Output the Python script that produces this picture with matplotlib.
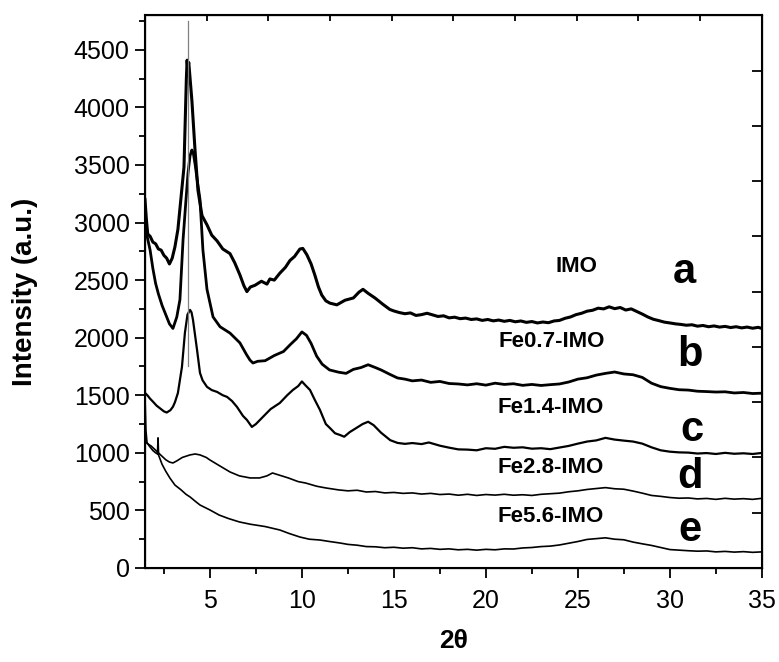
import matplotlib
matplotlib.use("Agg")
import matplotlib.pyplot as plt

plt.rcParams['font.family'] = ['Liberation Sans', 'DejaVu Sans']

# XRD patterns (2theta, intensity in a.u.)
x_imo = [1.47, 1.55, 1.62, 1.75, 1.9, 2.05, 2.2, 2.35, 2.5, 2.65, 2.8, 2.95, 3.1, 3.26,
         3.42, 3.59, 3.66, 3.72, 3.76, 3.8, 3.85, 3.92, 4.02, 4.19, 4.35, 4.57, 4.84,
         5.1, 5.39, 5.7, 6.09, 6.35, 6.63, 6.85, 7.01, 7.2, 7.45, 7.8, 8.1, 8.26, 8.5,
         8.8, 9.1, 9.35, 9.6, 9.89, 10.05, 10.27, 10.5, 10.7, 10.9, 11.08, 11.3, 11.52,
         11.9, 12.34, 12.8, 13.1, 13.32, 13.6, 13.97, 14.4, 14.78,
         15.0, 15.3, 15.6, 15.9, 16.2, 16.5, 16.8, 17.1, 17.4, 17.7, 18.0, 18.3, 18.6,
         18.9, 19.2, 19.5, 19.8, 20.1, 20.4, 20.7, 21.0, 21.3, 21.6, 21.9, 22.2, 22.5,
         22.8, 23.1, 23.4, 23.7, 24.0, 24.3, 24.6, 24.9, 25.2, 25.5, 25.8, 26.1, 26.4,
         26.7, 27.0, 27.3, 27.6, 27.9, 28.2, 28.5, 28.8, 29.1, 29.4, 29.7, 30.0, 30.3,
         30.6, 30.9, 31.2, 31.5, 31.8, 32.1, 32.4, 32.7, 33.0, 33.3, 33.6, 33.9, 34.2,
         34.5, 34.8, 35.0]
y_imo = [3200, 3020, 2900, 2880, 2830, 2815, 2770, 2760, 2715, 2690, 2640, 2690, 2790, 2940,
         3200, 3480, 3890, 4250, 4410, 4330, 4390, 4250, 4060, 3630, 3280, 3060, 2980,
         2890, 2840, 2770, 2730, 2650, 2545, 2450, 2400, 2440, 2455, 2490, 2465, 2510, 2500,
         2560, 2610, 2670, 2705, 2770, 2775, 2720, 2640, 2545, 2440, 2370, 2320, 2300,
         2285, 2325, 2345, 2395, 2420, 2385, 2345, 2290, 2245,
         2232, 2218, 2208, 2215, 2193, 2200, 2212, 2198, 2184, 2190, 2172, 2178, 2165,
         2170, 2158, 2163, 2150, 2158, 2146, 2153, 2142, 2150, 2138, 2145, 2133, 2140,
         2128, 2136, 2130, 2145, 2150, 2168, 2180, 2200, 2212, 2230, 2238, 2256, 2250,
         2268, 2252, 2262, 2240, 2250, 2228, 2205, 2180, 2160, 2148, 2135, 2128, 2120,
         2115, 2108, 2112, 2100, 2106, 2095, 2102, 2092, 2098, 2088, 2095, 2085, 2092,
         2082, 2090, 2080]

x_fe07 = [1.47, 1.6, 1.75, 1.9, 2.05, 2.2, 2.4, 2.6, 2.8, 2.99, 3.2, 3.37, 3.54, 3.7,
          3.81, 3.92, 4.02, 4.1, 4.2, 4.3, 4.46, 4.62, 4.84, 5.17, 5.55, 6.09, 6.63, 7.0,
          7.18, 7.34, 7.6, 8.0, 8.5, 9.0, 9.4, 9.7, 10.0, 10.25, 10.5, 10.8, 11.1, 11.5,
          12.0, 12.4, 12.8, 13.2, 13.6, 14.0, 14.3, 14.8,
          15.2, 15.6, 16.0, 16.5, 17.0, 17.5, 18.0, 18.5, 19.0, 19.5, 20.0, 20.5, 21.0,
          21.5, 22.0, 22.5, 23.0, 23.5, 24.0, 24.5, 25.0, 25.5, 26.0, 26.5, 27.0, 27.5,
          28.0, 28.5, 29.0, 29.5, 30.0, 30.5, 31.0, 31.5, 32.0, 32.5, 33.0, 33.5, 34.0,
          34.5, 35.0]
y_fe07 = [2980, 2870, 2760, 2600, 2470, 2380, 2280, 2200, 2120, 2080, 2180, 2330, 2850, 3200,
          3430, 3580, 3630, 3600, 3500, 3380, 3200, 2760, 2420, 2180, 2095, 2040, 1955, 1850,
          1805, 1780, 1795, 1800, 1845, 1880, 1945, 1990, 2050, 2020, 1950, 1840, 1770, 1720,
          1700, 1690, 1725, 1740, 1765, 1740, 1720, 1680,
          1650, 1640, 1625, 1632, 1612, 1620, 1602, 1598, 1590, 1600, 1588, 1605, 1594,
          1600, 1586, 1594, 1585, 1592, 1598, 1615, 1640, 1652, 1675, 1690, 1702, 1685,
          1678, 1655, 1605, 1575, 1560, 1548, 1545, 1535, 1532, 1528, 1530, 1520, 1524,
          1515, 1518]

x_fe14 = [1.47, 1.6, 1.75, 1.9, 2.1, 2.3, 2.5, 2.65, 2.85, 2.99, 3.1, 3.26, 3.48, 3.64,
          3.78, 3.92, 4.0, 4.08, 4.3, 4.46, 4.6, 4.84, 5.1, 5.39, 5.7, 5.93, 6.2, 6.47, 6.8,
          7.01, 7.28, 7.5, 7.88, 8.3, 8.8, 9.2, 9.51, 9.8, 10.0, 10.2, 10.44, 10.7, 10.98,
          11.3, 11.52, 11.8, 12.07, 12.3, 12.6, 13.0, 13.3, 13.6, 13.9, 14.3, 14.8,
          15.2, 15.6, 16.0, 16.5, 16.9, 17.5, 18.0, 18.5, 19.0, 19.5, 20.0, 20.5, 21.0,
          21.5, 22.0, 22.5, 23.0, 23.5, 24.0, 24.5, 25.0, 25.5, 26.0, 26.5, 27.0, 27.5,
          28.0, 28.5, 29.0, 29.5, 30.0, 30.5, 31.0, 31.5, 32.0, 32.5, 33.0, 33.5, 34.0,
          34.5, 35.0]
y_fe14 = [1520, 1500, 1470, 1445, 1410, 1385, 1360, 1350, 1370, 1400, 1440, 1520, 1746, 2041,
          2200, 2241, 2220, 2155, 1894, 1694, 1630, 1573, 1545, 1529, 1500, 1486, 1450, 1399, 1320,
          1286, 1225, 1250, 1312, 1380, 1433, 1500, 1546, 1580, 1620, 1585, 1546, 1460, 1373,
          1250, 1216, 1170, 1155, 1140, 1180, 1220, 1250, 1270, 1240, 1175, 1110,
          1086, 1078, 1085, 1076, 1090, 1062, 1045, 1030, 1028, 1022, 1040, 1035, 1052,
          1044, 1048, 1036, 1040, 1032, 1046, 1060, 1080, 1098, 1108, 1130, 1115, 1106,
          1098, 1080, 1048, 1022, 1010, 1004, 1002, 994, 998, 990, 1000, 992, 996,
          990, 999]

# narrow spike on the Fe1.4-IMO pattern
x_spike = [3.81, 3.81]
y_spike = [1750, 4750]

x_fe28 = [1.47, 1.6, 1.8, 2.0, 2.2, 2.4, 2.6, 2.8, 2.99, 3.2, 3.5, 3.92, 4.2, 4.46, 4.8,
          5.0, 5.5, 6.09, 6.6, 7.18, 7.7, 8.1, 8.4, 8.7, 9.26, 9.8, 10.2, 10.8, 11.3,
          12.0, 12.5, 13.0, 13.5, 14.0, 14.5, 15.0, 15.5, 16.0, 16.5, 17.0, 17.5, 18.0,
          18.5, 19.0, 19.5, 20.0, 20.5, 21.0, 21.5, 22.0, 22.5, 23.0, 23.5, 24.0, 24.5,
          25.0, 25.5, 26.0, 26.5, 27.0, 27.5, 28.0, 28.5, 29.0, 29.5, 30.0, 30.5, 31.0,
          31.5, 32.0, 32.5, 33.0, 33.5, 34.0, 34.5, 35.0]
y_fe28 = [1100, 1080, 1060, 1030, 1000, 970, 940, 920, 912, 930, 960, 982, 990, 982, 960,
          938, 890, 834, 800, 782, 782, 800, 825, 810, 782, 750, 738, 710, 695,
          678, 670, 675, 660, 664, 652, 656, 648, 652, 642, 648, 638, 642,
          632, 640, 630, 638, 633, 640, 632, 636, 630, 640, 645, 650, 662,
          670, 682, 690, 698, 688, 684, 668, 650, 630, 622, 612, 606, 608,
          600, 604, 596, 605, 598, 602, 596, 605]

x_fe56 = [1.47, 1.52, 1.58, 1.7, 1.9, 2.05, 2.15, 2.18, 2.21, 2.4, 2.6, 2.83, 3.1, 3.42,
          3.7, 3.92, 4.2, 4.46, 5.0, 5.5, 6.0, 6.6, 7.2, 8.0, 8.8, 9.3, 9.89, 10.4, 10.98,
          11.5, 12.07, 12.5, 13.0, 13.5, 14.0, 14.5, 15.0, 15.5, 16.0, 16.5, 17.0, 17.5,
          18.0, 18.5, 19.0, 19.5, 20.0, 20.5, 21.0, 21.5, 22.0, 22.5, 23.0, 23.5, 24.0,
          24.5, 25.0, 25.5, 26.0, 26.5, 27.0, 27.5, 28.0, 28.5, 29.0, 29.5, 30.0, 30.5,
          31.0, 31.5, 32.0, 32.5, 33.0, 33.5, 34.0, 34.5, 35.0]
y_fe56 = [1500, 1200, 1090, 1060, 1020, 1000, 990, 1130, 980, 900, 840, 780, 720, 680,
          640, 617, 580, 547, 504, 460, 430, 400, 380, 360, 330, 300, 269, 250, 243,
          230, 217, 205, 198, 186, 184, 176, 180, 172, 176, 166, 170, 162,
          166, 158, 162, 155, 162, 158, 166, 165, 174, 178, 186, 190, 200,
          215, 230, 248, 255, 262, 250, 245, 225, 210, 196, 178, 160, 155,
          150, 146, 148, 140, 144, 138, 142, 136, 140]

sample_names = ['IMO', 'Fe0.7-IMO', 'Fe1.4-IMO', 'Fe2.8-IMO', 'Fe5.6-IMO']
letters = ['a', 'b', 'c', 'd', 'e']
name_pos = [(24.9, 2615), (23.6, 1963), (23.5, 1390), (23.5, 877), (23.5, 443)]
letter_pos = [(30.8, 2570), (31.1, 1850), (31.2, 1200), (31.1, 790), (31.1, 330)]

x_major = [5, 10, 15, 20, 25, 30, 35]
y_major = [0, 500, 1000, 1500, 2000, 2500, 3000, 3500, 4000, 4500]
frame_ticks = [0.1, 0.2, 0.3, 0.4, 0.5, 0.6, 0.7, 0.8, 0.9]

fig = plt.figure(figsize=(7.79, 6.62), dpi=100)
ax = fig.add_axes([0.1861, 0.142, 0.7919, 0.835])

ax.plot(x_imo, y_imo, color='black', lw=2.2)
ax.plot(x_fe07, y_fe07, color='black', lw=2.0)
ax.plot(x_fe14, y_fe14, color='black', lw=1.6)
ax.plot(x_spike, y_spike, color='#808080', lw=0.9)
ax.plot(x_fe28, y_fe28, color='black', lw=1.2)
ax.plot(x_fe56, y_fe56, color='black', lw=1.2)

for name, (nx, ny) in zip(sample_names, name_pos):
    ax.text(nx, ny, name, fontsize=16, fontweight='bold', ha='center', va='center')
for let, (lx, ly) in zip(letters, letter_pos):
    ax.text(lx, ly, let, fontsize=30, fontweight='bold', ha='center', va='center')

ax.set_xlim(1.47, 35)
ax.set_ylim(0, 4800)
ax.set_xticks(x_major)
ax.set_yticks(y_major)
ax.set_xticks([2.5, 7.5, 12.5, 17.5, 22.5, 27.5, 32.5], minor=True)
ax.set_yticks([250, 750, 1250, 1750, 2250, 2750, 3250, 3750, 4250, 4750], minor=True)
ax.tick_params(which='major', direction='out', length=7, width=1.3, labelsize=18, pad=4)
ax.tick_params(axis='x', which='major', pad=8)
ax.tick_params(which='minor', direction='out', length=4, width=1.3)
for s in ax.spines.values():
    s.set_linewidth(1.5)

ax.set_xlabel('2θ', fontsize=19, fontweight='bold', labelpad=12)
ax.set_ylabel('Intensity (a.u.)', fontsize=20, fontweight='bold', labelpad=26)

top = ax.twiny()
top.set_xlim(0, 1)
top.set_xticks(frame_ticks)
top.tick_params(axis='x', direction='in', length=4, width=1.3, labeltop=False)

right = ax.twinx()
right.set_ylim(0, 1)
right.set_yticks(frame_ticks)
right.tick_params(axis='y', direction='in', length=7, width=1.3, labelright=False)

fig.savefig('out.png', dpi=100)
